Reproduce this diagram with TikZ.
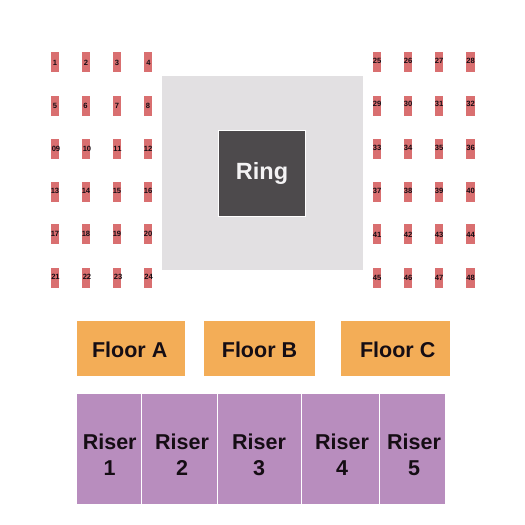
\documentclass[tikz,border=0pt]{standalone}
\usepackage{fontspec}
\setmainfont{Liberation Sans}
\definecolor{seatc}{HTML}{D96F70}
\definecolor{floorc}{HTML}{F3AD57}
\definecolor{riserc}{HTML}{B88DBE}
\definecolor{apron}{HTML}{E2E0E2}
\definecolor{ringc}{HTML}{4D4A4C}
\definecolor{ink}{HTML}{150D14}
\tikzset{
  seatbox/.style={fill=seatc,inner sep=0pt,minimum height=20pt,minimum width=8pt},
  seatwide/.style={seatbox,minimum width=9pt},
  seatnum/.style={text=ink,inner sep=0pt,font=\fontsize{7.6}{8}\selectfont\bfseries},
  block/.style={inner sep=0pt,outer sep=0pt},
  floorbox/.style={block,fill=floorc},
  riserbox/.style={block,fill=riserc},
  floorlabel/.style={text=ink,inner sep=0pt,anchor=base,font=\fontsize{21.5}{26}\selectfont\bfseries},
  biglabel/.style={text=ink,inner sep=0pt,align=center,font=\fontsize{21.5}{26.4}\selectfont\bfseries},
}
\begin{document}
\begin{tikzpicture}[x=1pt,y=-1pt]
\useasboundingbox (0,0) rectangle (525,525);
% seats: number / seat x / seat y / label x / label y
\foreach \n/\sx/\sy/\lx/\ly in {
 1/55/62/55/62.7, 2/86/62/86/62.7, 3/117/62/117/62.7, 4/148/62/148.5/62.7,
 5/55/106/55/105.7, 6/86/106/85.5/105.7, 7/117/106/117/105.7, 8/148/106/148/105.7,
 09/55/149/56/149, 10/86/149/87/149, 11/117/149/117.5/149, 12/148/149/148/149,
 13/55/192/55/191, 14/86/192/86/191, 15/117/192/117/191, 16/148/192/148/191,
 17/55/234/55/234, 18/86/234/86/234, 19/117/234/117/234, 20/148/234/148/234,
 21/55/278/55.5/277, 22/86/278/87/277, 23/117/278/118/277, 24/148/278/148.5/277,
 25/377/62/377/61.3, 26/408/62/408/61.3, 27/439/62/439/61.3,
 29/377/106/377/104, 30/408/106/408/104, 31/439/106/439/104,
 33/377/149/377/147.5, 34/408/149/408/147.5, 35/439/149/439/147.5,
 37/377/192/377/191, 38/408/192/408/191, 39/439/192/439/191,
 41/377/234/377/234.5, 42/408/234/408/234.5, 43/439/234/439/234.5,
 45/377/278/377/277.5, 46/408/278/408/277.5, 47/439/278/439/277.5}
{
  \node[seatbox] (seat\n) at (\sx,\sy) {};
  \node[seatnum] (num\n) at (\lx,\ly) {\n};
}
\foreach \n/\sy/\ly in {28/62/61.3,32/106/104,36/149/147.5,40/192/191,44/234/234.5,48/278/277.5}
{
  \node[seatwide] (seat\n) at (470.5,\sy) {};
  \node[seatnum] (num\n) at (470.5,\ly) {\n};
}
% ring area
\node[block,fill=apron,minimum width=201pt,minimum height=194pt] (apronbox) at (262.5,173) {};
\node[block,fill=ringc,draw=white,line width=0.9pt,minimum width=87pt,minimum height=86pt] (ring) at (262.2,173) {};
\node[text=apron!40!white,inner sep=0pt,anchor=base,font=\fontsize{23.5}{26}\selectfont\bfseries] (ringlabel) at (262,179.5) {Ring};
% floor
\node[floorbox,minimum width=108pt,minimum height=55pt] (floorA) at (131,348.5) {};
\node[floorbox,minimum width=111pt,minimum height=55pt] (floorB) at (259.5,348.5) {};
\node[floorbox,minimum width=109pt,minimum height=55pt] (floorC) at (395.5,348.5) {};
\node[floorlabel] (labelA) at (129.7,357.8) {Floor A};
\node[floorlabel] (labelB) at (259.5,357.8) {Floor B};
\node[floorlabel] (labelC) at (397.7,357.8) {Floor C};
% risers
\node[riserbox,minimum width=64pt,minimum height=110pt] (riser1) at (109,449) {};
\node[riserbox,minimum width=75pt,minimum height=110pt] (riser2) at (179.5,449) {};
\node[riserbox,minimum width=83pt,minimum height=110pt] (riser3) at (259.5,449) {};
\node[riserbox,minimum width=77pt,minimum height=110pt] (riser4) at (340.5,449) {};
\node[riserbox,minimum width=65pt,minimum height=110pt] (riser5) at (412.5,449) {};
\node[biglabel] (rl1) at (109.7,454.8) {Riser\\1};
\node[biglabel] (rl2) at (182,454.8) {Riser\\2};
\node[biglabel] (rl3) at (259,454.8) {Riser\\3};
\node[biglabel] (rl4) at (342,454.8) {Riser\\4};
\node[biglabel] (rl5) at (414,454.8) {Riser\\5};
\end{tikzpicture}
\end{document}
